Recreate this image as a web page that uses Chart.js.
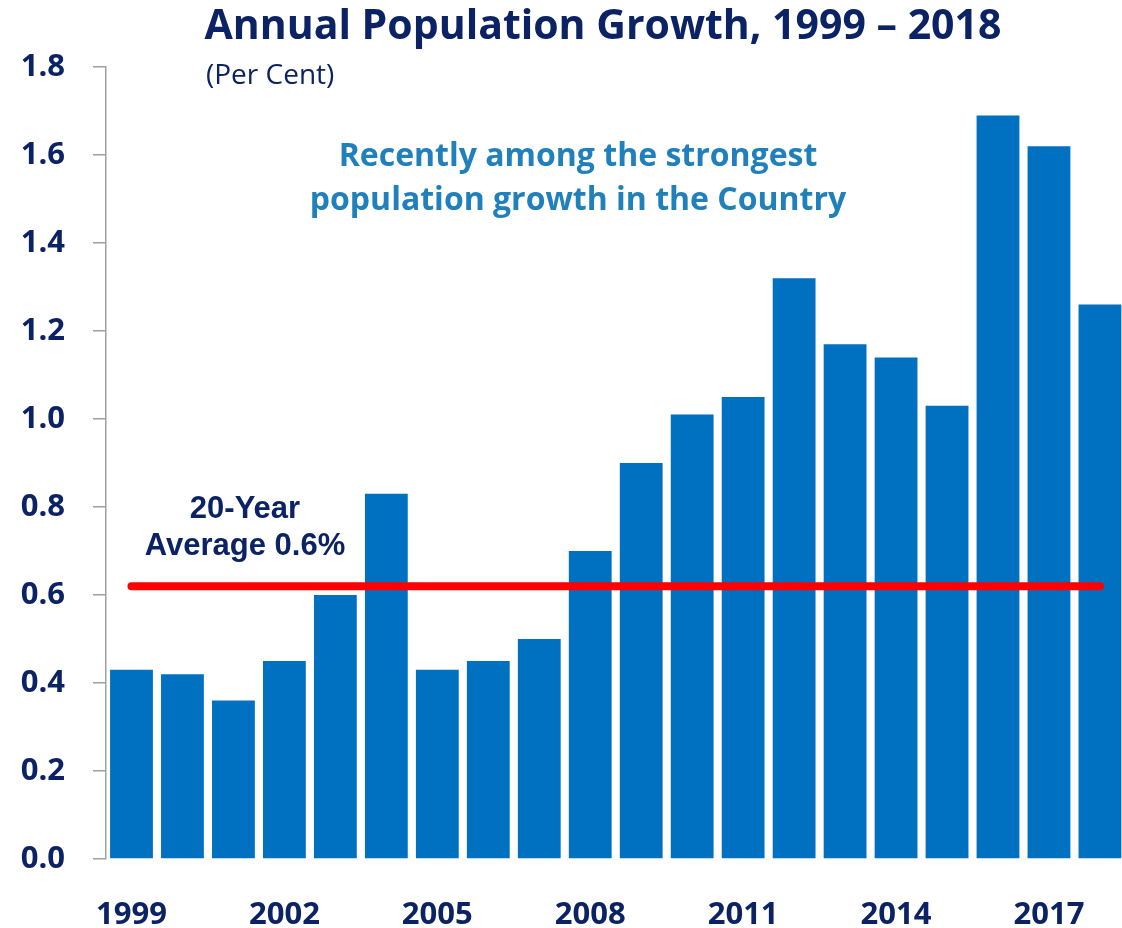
<!DOCTYPE html>
<html>
<head>
<meta charset="utf-8">
<script src="https://cdn.jsdelivr.net/npm/chart.js@4.4.1/dist/chart.umd.min.js"></script>
<style>
    html, body { margin: 0; padding: 0; background: #fff; overflow: hidden; }
    #wrap { width: 1130px; height: 928px; }
</style>
</head>
<body>
<div id="wrap"><canvas id="popChart" width="1130" height="928"></canvas></div>
<script>
// Chart data
const years = ['1999', '2000', '2001', '2002', '2003', '2004', '2005', '2006', '2007', '2008',
               '2009', '2010', '2011', '2012', '2013', '2014', '2015', '2016', '2017', '2018'];
const growth = [0.43, 0.42, 0.36, 0.45, 0.60, 0.83, 0.43, 0.45, 0.50, 0.70,
                0.90, 1.01, 1.05, 1.32, 1.17, 1.14, 1.03, 1.69, 1.62, 1.26];
const average = years.map(() => 0.62);
const shownYears = ['1999', '2002', '2005', '2008', '2011', '2014', '2017'];

const navy = '#0b2265';
const teal = '#1f80bb';
const barBlue = '#0070c0';

// Titles and notes drawn on top of the chart
const textPlugin = {
    id: 'notes',
    afterDraw(chart) {
        const ctx = chart.ctx;
        ctx.save();
        ctx.textBaseline = 'middle';
        ctx.textAlign = 'center';

        ctx.fillStyle = navy;
        ctx.font = "bold 41px 'Open Sans'";
        ctx.fillText('Annual Population Growth, 1999 \u2013 2018', 603, 27);

        ctx.textAlign = 'left';
        ctx.font = "28px 'Open Sans'";
        ctx.fillText('(Per Cent)', 206, 76);

        ctx.textAlign = 'center';
        ctx.fillStyle = teal;
        ctx.font = "bold 32px 'Open Sans'";
        ctx.fillText('Recently among the strongest', 578, 157);
        ctx.fillText('population growth in the Country', 578, 201);

        ctx.fillStyle = navy;
        ctx.font = "bold 31px 'Liberation Sans'";
        ctx.fillText('20-Year', 245, 509);
        ctx.fillText('Average 0.6%', 245, 546);
        ctx.restore();
    }
};

new Chart(document.getElementById('popChart'), {
    data: {
        labels: years,
        datasets: [
            {
                type: 'line',
                label: '20-Year Average',
                data: average,
                borderColor: '#ff0000',
                borderWidth: 8,
                borderCapStyle: 'round',
                pointRadius: 0,
                order: 0
            },
            {
                type: 'bar',
                label: 'Growth',
                data: growth,
                backgroundColor: barBlue,
                categoryPercentage: 1,
                barPercentage: 0.84,
                order: 1
            }
        ]
    },
    options: {
        responsive: false,
        animation: false,
        layout: { padding: { top: 67, right: 2, left: 0, bottom: 0 } },
        plugins: {
            legend: { display: false },
            tooltip: { enabled: false }
        },
        scales: {
            x: {
                grid: { display: false },
                border: { display: false },
                afterFit: s => { s.height = 69; },
                ticks: {
                    autoSkip: false,
                    maxRotation: 0,
                    padding: 30,
                    color: navy,
                    font: { family: "'Open Sans'", weight: 'bold', size: 31 },
                    callback: function (v) {
                        const lab = this.getLabelForValue(v);
                        return shownYears.includes(lab) ? lab : '';
                    }
                }
            },
            y: {
                min: 0,
                max: 1.8,
                afterFit: s => { s.width = 106; },
                border: { display: true, color: '#a0a0a0', width: 1.5 },
                grid: { drawOnChartArea: false, tickLength: 13, color: '#a0a0a0', lineWidth: 1.5 },
                ticks: {
                    stepSize: 0.2,
                    padding: 28,
                    color: navy,
                    font: { family: "'Open Sans'", weight: 'bold', size: 31 },
                    callback: v => v.toFixed(1)
                }
            }
        }
    },
    plugins: [textPlugin]
});
</script>
</body>
</html>
